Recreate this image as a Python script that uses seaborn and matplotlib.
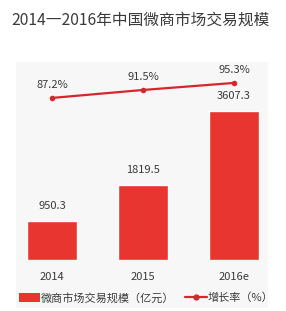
import seaborn as sns
import pandas as pd
import matplotlib.pyplot as plt
from matplotlib.patches import Rectangle, Patch
from matplotlib.lines import Line2D

years = ['2014', '2015', '2016e']
scale = [950.3, 1819.5, 3607.3]
growth = [87.2, 91.5, 95.3]
scale_labels = ['950.3', '1819.5', '3607.3']
growth_labels = ['87.2%', '91.5%', '95.3%']

sns.set_theme(style="white")
plt.rcParams['font.family'] = ['Noto Sans CJK SC', 'DejaVu Sans']

bar_red = '#e8352f'
line_red = '#d8262d'
txt = '#3a3a3a'

df = pd.DataFrame({'year': years, 'scale': scale, 'growth': growth})

W, H = 286, 311
fig = plt.figure(figsize=(W / 100, H / 100), dpi=100)
fig.patch.set_facecolor('white')
# light grey panel behind the chart
fig.patches.append(Rectangle((16 / W, 3 / H), 252 / W, 246 / H, transform=fig.transFigure,
                             facecolor='#f7f7f7', edgecolor='none', zorder=-5))

ax = fig.add_axes([16 / W, 51 / H, 252 / W, 198 / H])
ax.patch.set_alpha(0)
sns.barplot(data=df, x='year', y='scale', color=bar_red, width=0.55, saturation=1, ax=ax)
for i, v in enumerate(scale):
    ax.text(i, v + 240, scale_labels[i], ha='center', va='bottom', fontsize=8, color=txt)
ax.set_ylim(0, 4794)
ax.set_xlim(-0.396, 2.373)
ax.set_yticks([])
ax.set_xlabel('')
ax.set_ylabel('')
ax.tick_params(axis='x', length=0, pad=9, labelsize=8, labelcolor=txt)
for s in ax.spines.values():
    s.set_visible(False)

ax2 = ax.twinx()
sns.lineplot(x=[0, 1, 2], y=growth, color=line_red, marker='o', markersize=4,
             markeredgewidth=0, linewidth=1.6, ax=ax2)
for i, v in enumerate(growth):
    ax2.text(i, v + 4.5, growth_labels[i], ha='center', va='bottom', fontsize=8, color=txt)
ax2.set_ylim(-0.3, 106.6)
ax2.set_xlim(-0.396, 2.373)
ax2.set_yticks([])
for s in ax2.spines.values():
    s.set_visible(False)

fig.text(141 / W, 1 - 20 / H, '2014一2016年中国微商市场交易规模', ha='center', va='center',
         fontsize=11.3, color=txt)

handles = [Patch(facecolor=bar_red, edgecolor='none'),
           Line2D([0], [0], color=line_red, marker='o', markersize=3.5, linewidth=1.6)]
fig.legend(handles, ['微商市场交易规模（亿元）', '增长率（%）'], loc='center',
           bbox_to_anchor=(146 / W, 1 - 298 / H), ncol=2, frameon=False, fontsize=8,
           handlelength=1.9, handleheight=0.8, handletextpad=0.1, columnspacing=1.0,
           labelcolor=txt)

fig.savefig('out.png', dpi=100)
